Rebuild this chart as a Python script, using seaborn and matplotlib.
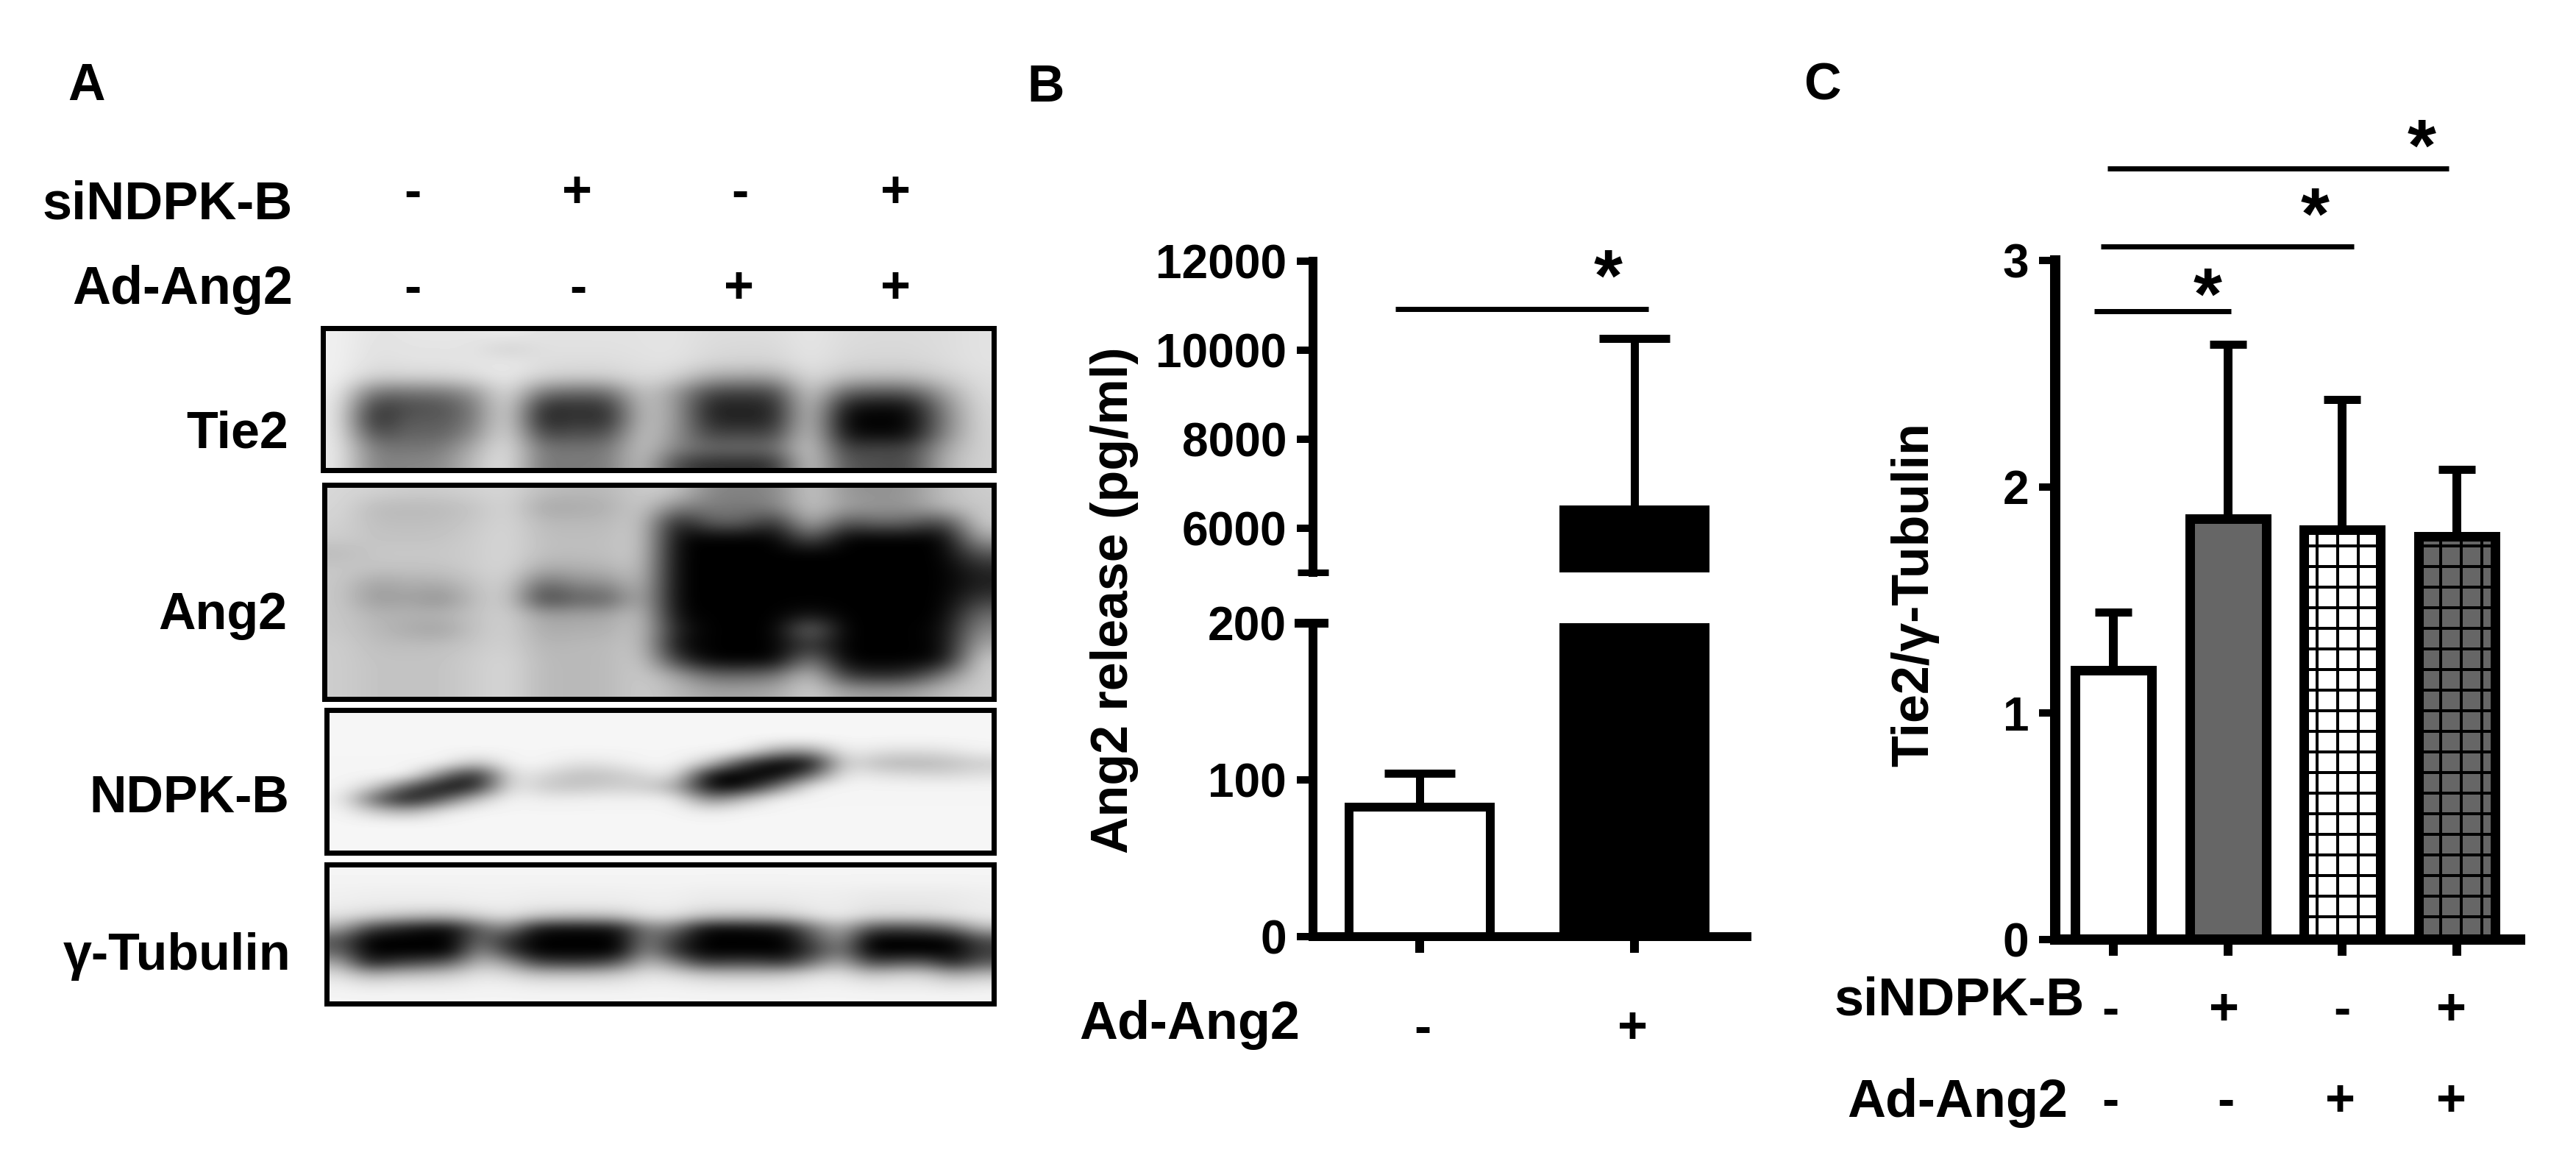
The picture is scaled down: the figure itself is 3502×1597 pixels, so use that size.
import numpy as np
import pandas as pd
import matplotlib
matplotlib.use('Agg')
import matplotlib.pyplot as plt
import seaborn as sns

# Panel B values
b_groups = ['-', '+']
b_means = [82.5, 6400]
b_err_tops = [104, 10260]
b_low_ticks = [0, 100, 200]
b_up_ticks = [6000, 8000, 10000, 12000]

# Panel C values
c_groups = ['ctrl', 'si', 'ad', 'si_ad']
c_means = [1.19, 1.86, 1.81, 1.78]
c_err_tops = [1.446, 2.63, 2.385, 2.077]
c_ticks = [0, 1, 2, 3]
c_fills = ['white', '#666666', 'white', '#666666']
c_hatches = ['', '', '+', '+']

# Blot grey levels, row by row
tie2 = [
    [240, 226, 230, 230, 230, 238, 226, 226, 226, 226, 228, 220, 220, 220, 230, 220, 218, 218, 220, 226],
    [240, 224, 228, 228, 228, 205, 224, 224, 224, 226, 228, 218, 216, 216, 230, 218, 216, 216, 220, 226],
    [240, 222, 226, 226, 228, 234, 222, 220, 220, 224, 226, 212, 210, 210, 228, 214, 212, 212, 218, 226],
    [240, 205, 210, 210, 218, 234, 208, 204, 204, 220, 210, 165, 160, 160, 224, 190, 185, 185, 205, 222],
    [238, 115, 120, 120, 150, 234, 120, 110, 110, 205, 160, 70, 70, 70, 222, 100, 90, 90, 165, 220],
    [235, 50, 80, 80, 120, 234, 40, 55, 45, 200, 160, 30, 35, 35, 220, 25, 15, 15, 135, 216],
    [235, 30, 95, 85, 120, 234, 25, 60, 35, 200, 160, 35, 35, 35, 220, 0, 0, 0, 125, 214],
    [235, 70, 105, 95, 140, 234, 65, 85, 75, 205, 150, 65, 75, 65, 220, 15, 10, 10, 135, 212],
    [235, 120, 120, 120, 175, 234, 115, 120, 115, 205, 130, 105, 110, 105, 220, 60, 75, 65, 165, 210],
    [235, 125, 135, 135, 190, 234, 115, 125, 120, 205, 70, 45, 45, 45, 220, 85, 80, 70, 180, 210],
]
ang2 = [
    [215, 210, 205, 205, 210, 215, 190, 185, 185, 205, 200, 135, 130, 135, 205, 150, 145, 150, 190, 205],
    [215, 185, 185, 185, 195, 215, 165, 170, 175, 205, 130, 125, 120, 130, 200, 160, 150, 150, 185, 200],
    [210, 190, 190, 190, 200, 215, 185, 185, 185, 205, 20, 100, 100, 40, 190, 80, 110, 100, 60, 205],
    [205, 195, 195, 195, 205, 215, 190, 190, 190, 205, 5, 0, 0, 0, 100, 0, 0, 0, 0, 165],
    [185, 200, 200, 200, 205, 215, 190, 190, 190, 205, 0, 0, 0, 0, 0, 0, 0, 0, 0, 90],
    [200, 195, 195, 195, 205, 215, 170, 175, 180, 200, 0, 0, 0, 0, 0, 0, 0, 0, 0, 40],
    [200, 160, 175, 170, 195, 212, 100, 140, 140, 195, 0, 0, 0, 0, 0, 0, 0, 0, 0, 30],
    [200, 150, 165, 140, 190, 210, 55, 100, 90, 190, 0, 0, 0, 0, 0, 0, 0, 0, 0, 60],
    [200, 180, 180, 180, 195, 210, 160, 165, 165, 200, 5, 0, 0, 0, 20, 0, 0, 0, 0, 110],
    [200, 185, 170, 160, 195, 210, 170, 175, 175, 200, 30, 0, 0, 0, 130, 0, 0, 0, 10, 140],
    [205, 190, 190, 190, 200, 210, 180, 185, 185, 200, 10, 0, 0, 0, 60, 0, 0, 0, 5, 170],
    [205, 195, 195, 195, 205, 215, 185, 185, 185, 205, 60, 0, 0, 0, 140, 0, 0, 0, 10, 205],
    [205, 195, 195, 195, 205, 215, 185, 185, 185, 205, 170, 110, 110, 120, 205, 60, 40, 50, 130, 205],
    [205, 195, 195, 195, 205, 215, 185, 185, 185, 205, 185, 165, 165, 170, 210, 165, 160, 165, 190, 205],
]
ndpk = [
    [246] * 20,
    [246] * 20,
    [246] * 20,
    [245, 245, 245, 245, 245, 245, 245, 245, 245, 245, 245, 245, 240, 160, 150, 240, 225, 220, 225, 240],
    [245, 245, 245, 245, 190, 245, 245, 225, 230, 245, 245, 200, 60, 0, 0, 225, 185, 180, 185, 205],
    [245, 245, 245, 120, 20, 235, 215, 190, 195, 215, 235, 0, 0, 0, 100, 240, 225, 220, 215, 225],
    [245, 205, 80, 5, 30, 240, 200, 195, 205, 205, 170, 0, 10, 120, 240, 245, 245, 245, 245, 245],
    [240, 90, 10, 90, 200, 245, 235, 238, 240, 240, 240, 120, 190, 245, 245, 245, 245, 245, 245, 245],
    [244, 195, 170, 230, 245, 245, 245, 245, 245, 245, 245, 230, 245, 245, 245, 245, 245, 245, 245, 245],
    [246] * 20,
    [246] * 20,
    [246] * 20,
]
tubulin = [
    [245] * 24,
    [243] * 24,
    [240, 238, 238, 238, 238, 240, 240, 238, 238, 238, 238, 240, 240, 236, 236, 236, 236, 238, 238, 234, 234, 234, 234, 238],
    [238, 235, 235, 235, 235, 238, 238, 235, 235, 235, 235, 238, 238, 232, 232, 232, 232, 236, 236, 230, 230, 230, 232, 236],
    [225, 210, 195, 185, 185, 210, 225, 200, 190, 190, 195, 225, 225, 195, 190, 190, 200, 225, 235, 215, 215, 215, 225, 235],
    [170, 70, 40, 15, 15, 100, 140, 25, 15, 15, 25, 130, 120, 15, 10, 15, 30, 120, 180, 80, 70, 80, 110, 185],
    [90, 0, 0, 0, 0, 110, 50, 0, 0, 0, 0, 130, 60, 0, 0, 0, 0, 80, 150, 0, 0, 0, 5, 80],
    [100, 0, 0, 0, 0, 150, 60, 0, 0, 0, 0, 150, 50, 0, 0, 0, 0, 60, 130, 0, 0, 0, 0, 60],
    [170, 30, 60, 75, 100, 190, 160, 70, 60, 60, 90, 190, 140, 60, 70, 70, 50, 120, 180, 70, 85, 95, 30, 90],
    [222, 175, 190, 195, 205, 228, 220, 195, 195, 195, 205, 228, 220, 200, 195, 195, 200, 222, 228, 195, 210, 210, 170, 190],
    [240, 232, 235, 235, 235, 240, 240, 235, 235, 235, 235, 240, 240, 235, 235, 235, 235, 240, 240, 235, 235, 235, 228, 235],
    [245] * 24,
]

W, H = 3502, 1597
DPI = 168  # hatch tile comes out 28 px apart at this dpi


def pt(px):
    return px * 72 / DPI


sns.set_theme(style='ticks')
plt.rcParams['font.family'] = ['Liberation Sans', 'DejaVu Sans']
plt.rcParams['font.weight'] = 'bold'
plt.rcParams['hatch.linewidth'] = pt(4)
plt.rcParams['hatch.color'] = 'black'

fig = plt.figure(figsize=((W + 0.1) / DPI, (H + 0.1) / DPI), dpi=DPI, facecolor='white')


def box(x0, y0, x1, y1):
    # axes from a pixel box measured from the top left
    return fig.add_axes([x0 / W, 1 - y1 / H, (x1 - x0) / W, (y1 - y0) / H])


# Panel A blots
for grey, b in [(tie2, (439, 446, 1351, 639)),
                (ang2, (441, 659, 1351, 950)),
                (ndpk, (444, 965, 1351, 1159)),
                (tubulin, (444, 1175, 1351, 1364))]:
    ax = box(*b)
    ax.imshow(np.array(grey), cmap='gray', vmin=0, vmax=255, aspect='auto', interpolation='bicubic')
    ax.set_xticks([])
    ax.set_yticks([])
    for s in ax.spines.values():
        s.set_linewidth(pt(7))
        s.set_color('black')


def bars(ax, groups, means, width, fills, hatches, edge_px):
    df = pd.DataFrame({'group': groups, 'value': means})
    sns.barplot(data=df, x='group', y='value', order=groups, color='white', width=width,
                errorbar=None, saturation=1, edgecolor='black', linewidth=pt(edge_px), ax=ax)
    for patch, f, h in zip(ax.patches, fills, hatches):
        patch.set_facecolor(f)
        patch.set_hatch(h)
    ax.set_xlabel('')
    ax.set_ylabel('')
    ax.set_xticklabels([])


def errs(ax, means, tops, cap_px, line_px):
    m = np.array(means)
    low = np.zeros(len(m))
    ax.errorbar(np.arange(len(m)), m, yerr=[low, np.array(tops) - m], fmt='none', ecolor='black',
                elinewidth=pt(line_px), capsize=pt(cap_px), capthick=pt(11), zorder=1)


def style_axis(ax, spine_px):
    ax.patch.set_alpha(0)
    ax.spines['top'].set_visible(False)
    ax.spines['right'].set_visible(False)
    for s in ['left', 'bottom']:
        ax.spines[s].set_linewidth(pt(spine_px))
        ax.spines[s].set_color('black')
    ax.tick_params(axis='y', length=pt(22), width=pt(10), pad=pt(14), labelsize=pt(64), color='black',
                   labelcolor='black')
    ax.tick_params(axis='x', length=pt(22), width=pt(12), color='black')


# Panel B, broken axis
b_fills = ['white', 'black']
b_hatch = ['', '']
x_b = (-0.497, 1.524)

ax_low = box(1785, 847, 2375, 1273)
bars(ax_low, b_groups, b_means, 0.66, b_fills, b_hatch, 12)
errs(ax_low, b_means, b_err_tops, 48, 11)
ax_low.set_ylim(0, 200)
ax_low.set_xlim(*x_b)
ax_low.set_yticks(b_low_ticks)
style_axis(ax_low, 12)

ax_up = box(1785, 355, 2375, 778)
bars(ax_up, b_groups, b_means, 0.66, b_fills, b_hatch, 12)
errs(ax_up, b_means, b_err_tops, 48, 11)
ax_up.set_ylim(5000, 12000)
ax_up.set_xlim(*x_b)
ax_up.set_yticks(b_up_ticks)
style_axis(ax_up, 12)
ax_up.spines['bottom'].set_visible(False)
ax_up.set_xticks([])

# Panel C
ax_c = box(2794, 354, 3426, 1277)
bars(ax_c, c_groups, c_means, 0.668, c_fills, c_hatches, 13)
errs(ax_c, c_means, c_err_tops, 25, 12)
ax_c.set_ylim(0, 3)
ax_c.set_xlim(-0.507, 3.552)
ax_c.set_yticks(c_ticks)
style_axis(ax_c, 14)

# Overlay in pixel coordinates for labels and brackets
ov = fig.add_axes([0, 0, 1, 1], zorder=10)
ov.set_xlim(0, W)
ov.set_ylim(H, 0)
ov.axis('off')


def label(x, y, s, ha='center', px=70, **kw):
    va = 'center' if 'rotation' in kw else 'center_baseline'
    ov.text(x, y, s, ha=ha, va=va, fontsize=pt(px), color='black', **kw)


for x, y, s in [(117, 110, 'A'), (1422, 112, 'B'), (2477, 110, 'C')]:
    label(x, y, s)

# Panel A labels
label(398, 271, 'siNDPK-B', ha='right', px=72)
label(398, 386, 'Ad-Ang2', ha='right', px=72)
label(392, 583, 'Tie2', ha='right')
label(390, 829, 'Ang2', ha='right')
label(393, 1078, 'NDPK-B', ha='right')
label(395, 1292, 'γ-Tubulin', ha='right')
for x, s in zip([561, 784, 1006, 1217], ['-', '+', '-', '+']):
    label(x, 256, s)
for x, s in zip([561, 786, 1004, 1217], ['-', '-', '+', '+']):
    label(x, 386, s)

# Panel B labels and break marks
ov.plot([1764, 1806], [778, 778], color='black', lw=pt(9), solid_capstyle='butt')
ov.plot([1760, 1806], [847, 847], color='black', lw=pt(12), solid_capstyle='butt')
label(1467, 1385, 'Ad-Ang2', ha='left', px=72)
label(1934, 1392, '-')
label(2219, 1392, '+')
label(1515, 816, 'Ang2 release (pg/ml)', rotation=90)
ov.plot([1897, 2241], [420, 420], color='black', lw=pt(7), solid_capstyle='butt')
label(2186, 372, '*', px=100)

# Panel C labels and brackets
label(2834, 1353, 'siNDPK-B', ha='right', px=72)
label(2811, 1491, 'Ad-Ang2', ha='right', px=72)
for x, s in zip([2869, 3023, 3184, 3332], ['-', '+', '-', '+']):
    label(x, 1367, s)
for x, s in zip([2869, 3026, 3181, 3332], ['-', '-', '+', '+']):
    label(x, 1491, s)
label(2603, 808, 'Tie2/γ-Tubulin', rotation=90)
for x0, x1, y in [(2865, 3329, 229), (2856, 3200, 335), (2847, 3033, 423)]:
    ov.plot([x0, x1], [y, y], color='black', lw=pt(7), solid_capstyle='butt')
for x, y in [(3292, 195), (3147, 288), (3001, 397)]:
    label(x, y, '*', px=100)

plt.savefig('out.png', dpi=DPI)
plt.close()
